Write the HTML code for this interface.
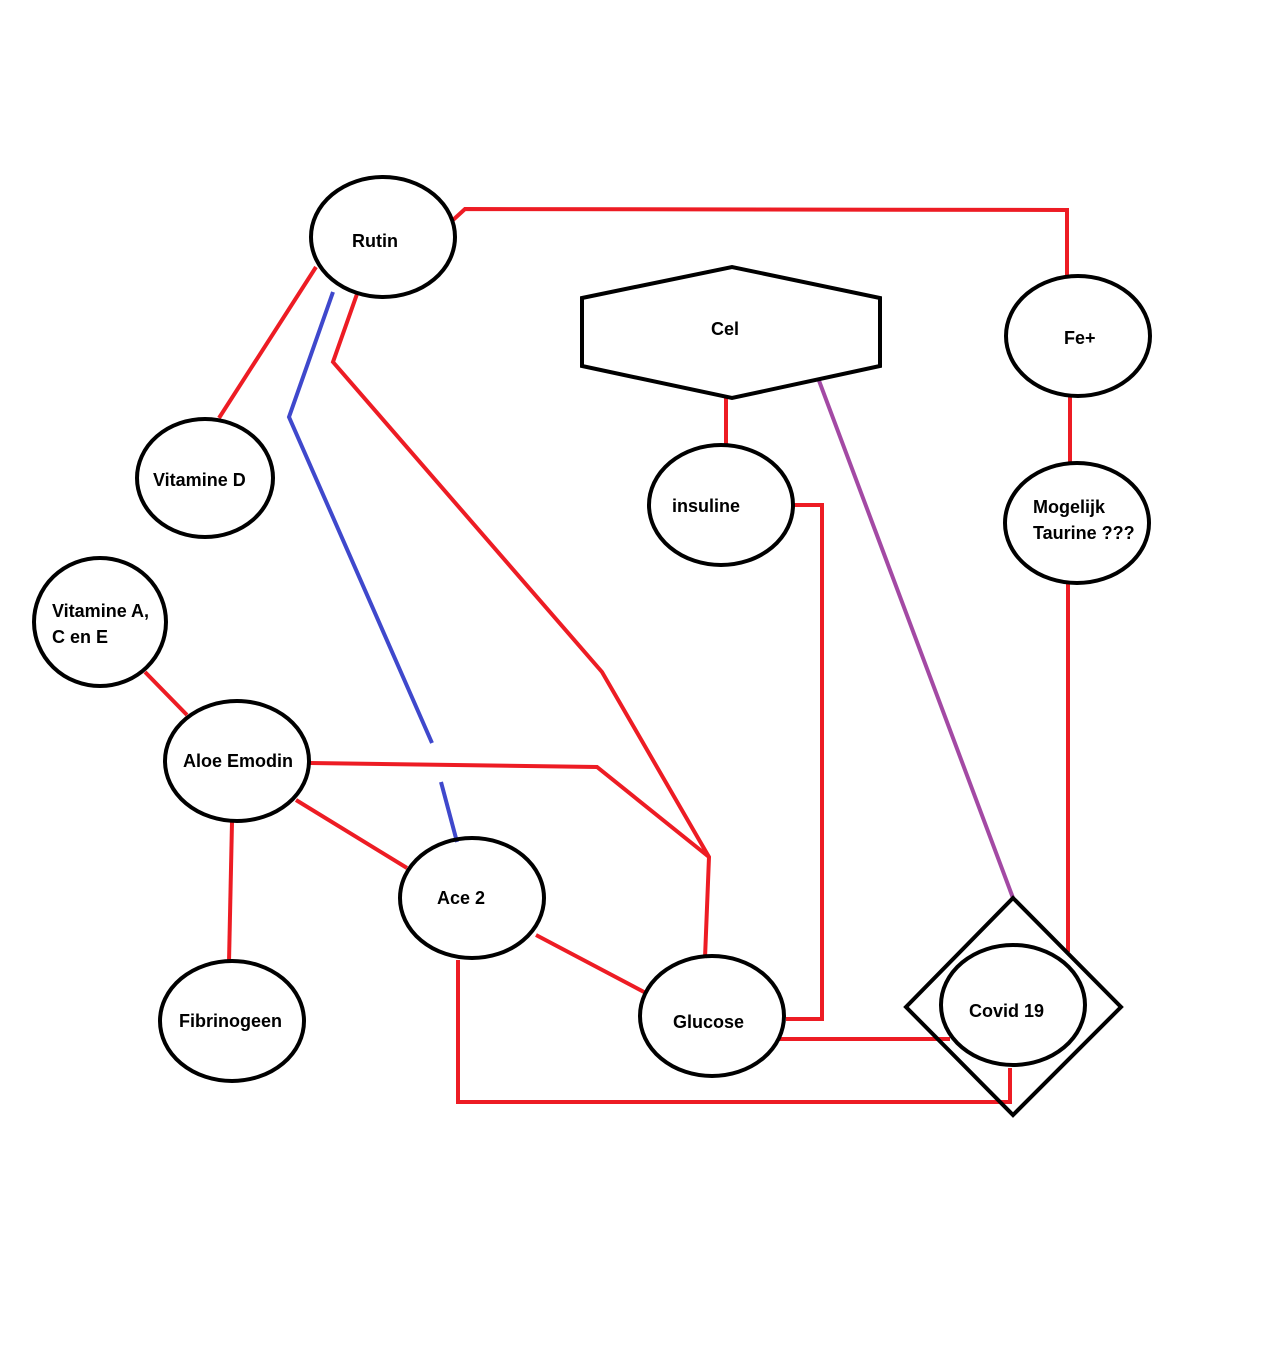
<!DOCTYPE html>
<html><head><meta charset="utf-8"><style>
html,body{margin:0;padding:0;background:#fff;}
svg{display:block;}
text{font-family:"Liberation Sans",sans-serif;font-weight:bold;font-size:18px;fill:#000;}
</style></head><body>
<svg width="1279" height="1350" viewBox="0 0 1279 1350">
<g fill="none" stroke-width="4" stroke-linejoin="miter">
<g stroke="#ed1c24">
<polyline points="453,220 465,209 1067,210 1067,276"/>
<line x1="316" y1="267" x2="219" y2="418"/>
<polyline points="357,294 333,362 602,672 709,857 705,958"/>
<polyline points="310,763 597,767 709,857"/>
<line x1="145" y1="672" x2="187" y2="715"/>
<line x1="232" y1="822" x2="229" y2="962"/>
<line x1="296" y1="800" x2="407" y2="868"/>
<line x1="536" y1="935" x2="644" y2="992"/>
<polyline points="458,960 458,1102 1010,1102 1010,1068"/>
<line x1="778" y1="1039" x2="950" y2="1039"/>
<polyline points="794,505 822,505 822,1019 786,1019"/>
<line x1="726" y1="398" x2="726" y2="445"/>
<line x1="1070" y1="396" x2="1070" y2="464"/>
<line x1="1068" y1="583" x2="1068" y2="952"/>
</g>
<g stroke="#3f48cc">
<polyline points="333,292 289,417 432,743"/>
<line x1="441" y1="782" x2="457" y2="842"/>
</g>
<line x1="818" y1="378" x2="1013" y2="898" stroke="#a349a4"/>
<g stroke="#000">
<ellipse cx="383" cy="237" rx="72" ry="60"/>
<ellipse cx="205" cy="478" rx="68" ry="59"/>
<ellipse cx="100" cy="622" rx="66" ry="64"/>
<ellipse cx="237" cy="761" rx="72" ry="60"/>
<ellipse cx="232" cy="1021" rx="72" ry="60"/>
<ellipse cx="472" cy="898" rx="72" ry="60"/>
<ellipse cx="712" cy="1016" rx="72" ry="60"/>
<ellipse cx="721" cy="505" rx="72" ry="60"/>
<ellipse cx="1078" cy="336" rx="72" ry="60"/>
<ellipse cx="1077" cy="523" rx="72" ry="60"/>
<ellipse cx="1013" cy="1005" rx="72" ry="60"/>
<polygon points="1013,898 1121,1007 1013,1115 906,1007"/>
<polygon points="582,298 732,267 880,298 880,366 732,398 582,366"/>
</g>
</g>
<text x="352" y="247">Rutin</text>
<text x="153" y="486">Vitamine D</text>
<text x="52" y="617">Vitamine A,</text>
<text x="52" y="643">C en E</text>
<text x="183" y="767">Aloe Emodin</text>
<text x="179" y="1027">Fibrinogeen</text>
<text x="437" y="904">Ace 2</text>
<text x="673" y="1028">Glucose</text>
<text x="672" y="512">insuline</text>
<text x="711" y="335">Cel</text>
<text x="1064" y="344">Fe+</text>
<text x="1033" y="513">Mogelijk</text>
<text x="1033" y="539">Taurine ???</text>
<text x="969" y="1017">Covid 19</text>
</svg>
</body></html>
